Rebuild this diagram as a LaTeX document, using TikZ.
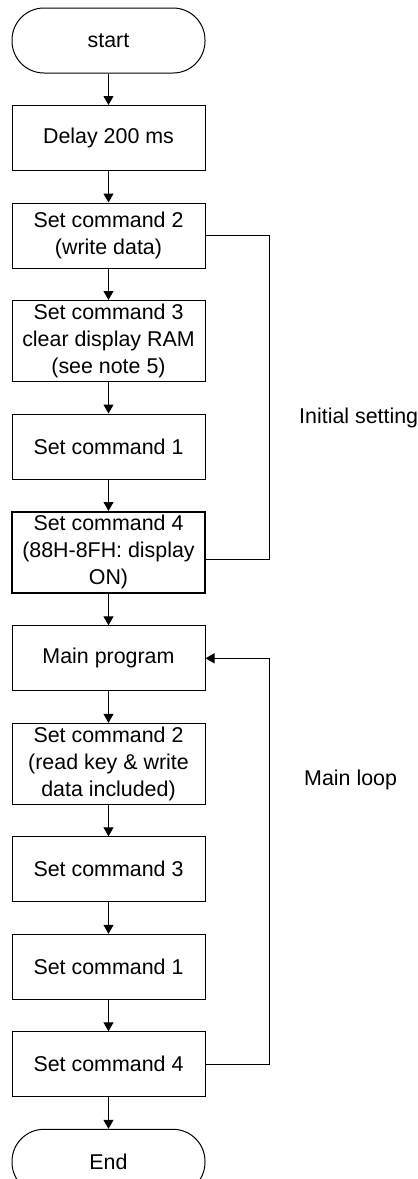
\documentclass[tikz,border=0pt]{standalone}
\usepackage{fontspec}
\setmainfont{Liberation Sans}
\usetikzlibrary{arrows.meta, positioning}

\begin{document}
\begin{tikzpicture}[
      x=1pt, y=1pt,
      node distance=31.5pt,
      every node/.style={align=center, font=\fontsize{21.4}{27}\selectfont},
      box/.style={draw, line width=1pt, minimum width=193pt, minimum height=65pt, inner sep=2pt},
      tallbox/.style={box, minimum height=81pt},
      term/.style={box, rounded corners=32pt},
      arr/.style={-{Triangle[length=9pt, width=10pt]}, line width=1pt},
      loopline/.style={line width=1pt}
   ]
      \useasboundingbox (0,0) rectangle (418,-1179);
      % initial setting
      \node[term] (start) at (108.5,-40.5) {start};
      \node[box] (delay) [below=of start] {Delay 200 ms};
      \node[box] (initb) [below=of delay] {Set command 2\\(write data)};
      \node[tallbox] (initc) [below=of initb] {Set command 3\\clear display RAM\\(see note 5)};
      \node[box] (inita) [below=of initc] {Set command 1};
      \node[tallbox, line width=1.8pt] (initd) [below=of inita] {Set command 4\\(88H-8FH: display\\ON)};
      % main loop
      \node[box] (main) [below=of initd] {Main program};
      \node[tallbox] (loopb) [below=of main] {Set command 2\\(read key \& write\\data included)};
      \node[box] (loopc) [below=of loopb] {Set command 3};
      \node[box] (loopa) [below=of loopc] {Set command 1};
      \node[box] (loopd) [below=of loopa] {Set command 4};
      \node[term] (stop) [below=of loopd] {End};

      \draw[arr] (start) -- (delay);
      \draw[arr] (delay) -- (initb);
      \draw[arr] (initb) -- (initc);
      \draw[arr] (initc) -- (inita);
      \draw[arr] (inita) -- (initd);
      \draw[arr] (initd) -- (main);
      \draw[arr] (main) -- (loopb);
      \draw[arr] (loopb) -- (loopc);
      \draw[arr] (loopc) -- (loopa);
      \draw[arr] (loopa) -- (loopd);
      \draw[arr] (loopd) -- (stop);

      % brackets on the right
      \draw[loopline] (initb.east) -- ++(64,0) |- ([yshift=-7pt]initd.east);
      \draw[arr] (loopd.east) -- ++(64,0) |- (main.east);
      \node[anchor=west, inner sep=0pt] (initlbl) at (299,-418) {Initial setting};
      \node[anchor=west, inner sep=0pt] (looplbl) at (304,-780) {Main loop};
   \end{tikzpicture}
\end{document}
